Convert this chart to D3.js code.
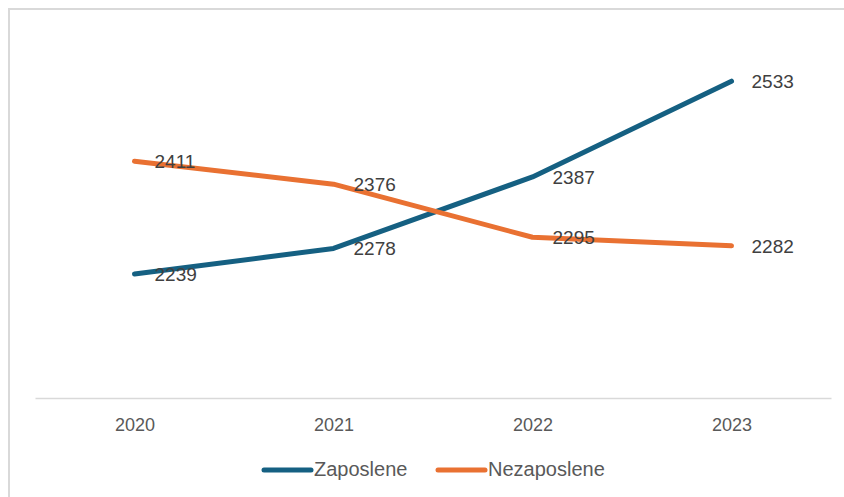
<!DOCTYPE html>
<html>
<head>
<meta charset="utf-8">
<script src="https://cdn.jsdelivr.net/npm/d3@7"></script>
<style>
  html, body { margin: 0; background: #fff; overflow: hidden; }
  svg { display: block; font-family: "Liberation Sans", Arial, sans-serif; }
</style>
</head>
<body>
<svg id="chart"></svg>
<script>
const years = ["2020", "2021", "2022", "2023"];
const zaposlene = [2239, 2278, 2387, 2533];
const nezaposlene = [2411, 2376, 2295, 2282];
const seriesNames = ["Zaposlene", "Nezaposlene"];
const seriesColors = ["#156082", "#E97132"];

const W = 844, H = 497;
const svg = d3.select("#chart").attr("width", W).attr("height", H);

// chart frame (right and bottom edges fall outside the picture)
svg.append("rect")
    .attr("x", 9).attr("y", 9)
    .attr("width", W).attr("height", H)
    .attr("fill", "none")
    .attr("stroke", "#d9d9d9")
    .attr("stroke-width", 2);

const xScale = d3.scalePoint()
    .domain(years)
    .range([35, 831])
    .padding(0.5);

const yScale = d3.scaleLinear()
    .domain([2050, 2550])
    .range([398, 70]);

// category axis
const xAxis = svg.append("g")
    .attr("transform", "translate(0,398)")
    .call(d3.axisBottom(xScale).tickSize(0).tickPadding(20));
xAxis.select(".domain").attr("stroke", "#d9d9d9").attr("stroke-width", 1.5);
xAxis.selectAll("text")
    .attr("fill", "#595959")
    .style("font-size", "18px")
    .style("font-family", "'Liberation Sans', Arial, sans-serif");

const series = [
    { name: seriesNames[0], values: zaposlene, color: seriesColors[0] },
    { name: seriesNames[1], values: nezaposlene, color: seriesColors[1] }
];

const line = d3.line()
    .x((d, i) => xScale(years[i]))
    .y(d => yScale(d));

series.forEach(s => {
    svg.append("path")
        .datum(s.values)
        .attr("fill", "none")
        .attr("stroke", s.color)
        .attr("stroke-width", 5)
        .attr("stroke-linecap", "round")
        .attr("stroke-linejoin", "round")
        .attr("d", line);
});

// data labels, to the right of each point
series.forEach(s => {
    svg.append("g").selectAll("text")
        .data(s.values)
        .join("text")
        .attr("x", (d, i) => xScale(years[i]) + 20)
        .attr("y", d => yScale(d) + 2)
        .attr("dominant-baseline", "middle")
        .attr("fill", "#404040")
        .style("font-size", "19px")
        .text(d => d);
});

// legend
const legendItems = [
    { x: 264, name: seriesNames[0], color: seriesColors[0] },
    { x: 438, name: seriesNames[1], color: seriesColors[1] }
];
legendItems.forEach(l => {
    const g = svg.append("g").attr("transform", `translate(${l.x},470)`);
    g.append("line")
        .attr("x1", 0).attr("x2", 47)
        .attr("y1", 0).attr("y2", 0)
        .attr("stroke", l.color)
        .attr("stroke-width", 5)
        .attr("stroke-linecap", "round");
    g.append("text")
        .attr("x", 50)
        .attr("y", 1)
        .attr("dominant-baseline", "middle")
        .attr("fill", "#595959")
        .style("font-size", "20px")
        .text(l.name);
});
</script>
</body>
</html>
